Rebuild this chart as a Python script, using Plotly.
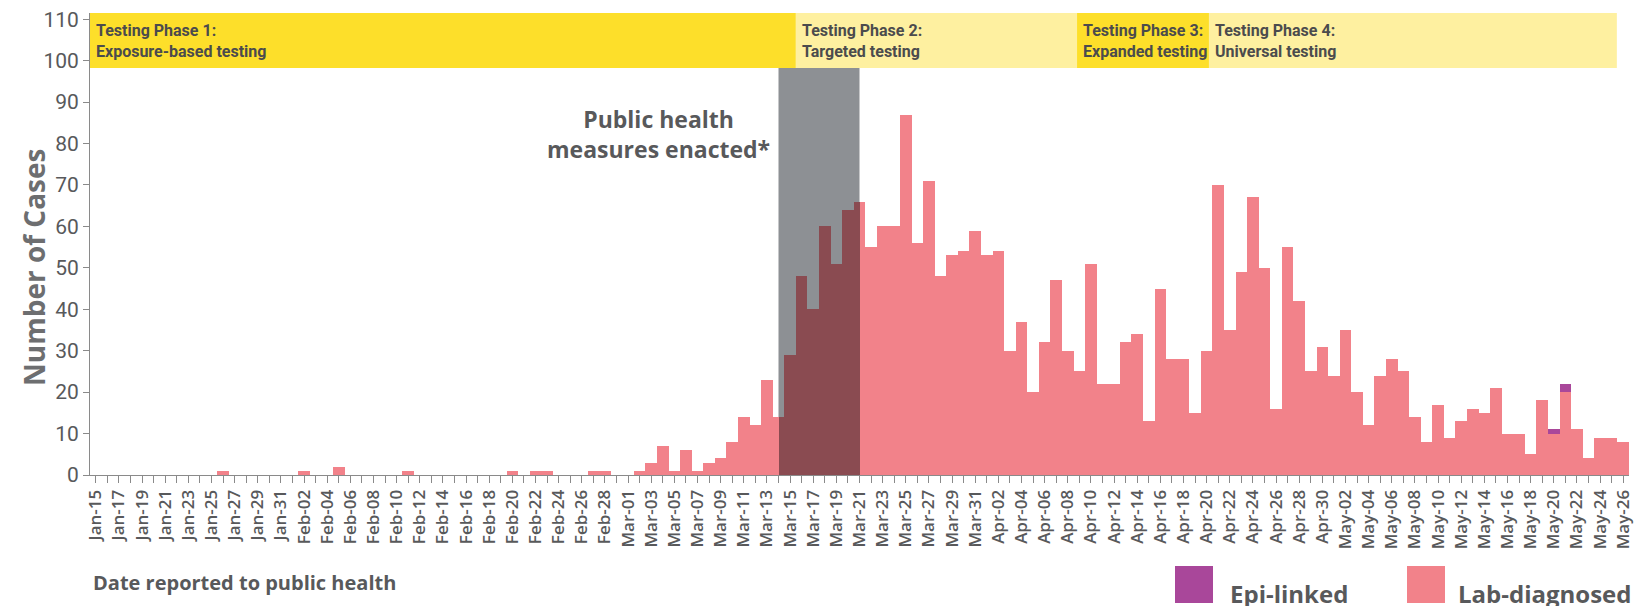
import pandas as pd
import plotly.graph_objects as go

# ---------------- data ----------------
dates = pd.date_range("2020-01-15", "2020-05-26", freq="D")
date_labels = [d.strftime("%b-%d") for d in dates]

lab_jan = [0, 0, 0, 0, 0, 0, 0, 0, 0, 0, 0, 1, 0, 0, 0, 0, 0]  # Jan 15-31
lab_feb = [0, 1, 0, 0, 2, 0, 0, 0, 0, 0, 1, 0, 0, 0, 0, 0, 0, 0, 0, 1,
           0, 1, 1, 0, 0, 0, 1, 1, 0]  # Feb 1-29
lab_mar = [0, 1, 3, 7, 1, 6, 1, 3, 4, 8, 14, 12, 23, 14, 29, 48, 40, 60, 51, 64,
           66, 55, 60, 60, 87, 56, 71, 48, 53, 54, 59]  # Mar 1-31
lab_apr = [53, 54, 30, 37, 20, 32, 47, 30, 25, 51, 22, 22, 32, 34, 13, 45, 28, 28, 15, 30,
           70, 35, 49, 67, 50, 16, 55, 42, 25, 31]  # Apr 1-30
lab_may = [24, 35, 20, 12, 24, 28, 25, 14, 8, 17, 9, 13, 16, 15, 21, 10, 10, 5, 18, 10,
           20, 11, 4, 9, 9, 8]  # May 1-26
lab_diagnosed = lab_jan + lab_feb + lab_mar + lab_apr + lab_may

epi_dates = ["May-20", "May-21"]
epi_values = [1, 2]

y_ticks = list(range(0, 111, 10))

# phase bands (x in day-index units, bars centred on integers)
phase_names = ["Testing Phase 1:<br>Exposure-based testing",
               "Testing Phase 2:<br>Targeted testing",
               "Testing Phase 3:<br>Expanded testing",
               "Testing Phase 4:<br>Universal testing"]
phase_starts = [-0.5, 60.5, 84.8, 96.2]
phase_ends = [60.5, 84.8, 96.2, 131.45]
phase_colors = ["#FDDF2A", "#FEF0A0", "#FDDF2A", "#FEF0A0"]
band_bottom, band_top = 98.2, 111.5

shade_start, shade_end = 59, 66  # centre of Mar-14 to centre of Mar-21

# ---------------- styling ----------------
PINK = "#F2828A"
DARK = "#8A4B51"
PURPLE = "#A9479A"
GRAY_SHADE = "#8D9094"
TXT = "#58595B"
TXT_DARK = "#4B4B4D"
NARROW = "Roboto, Liberation Sans, sans-serif"
OPEN = "Open Sans, sans-serif"

W, H = 1641, 606
ML, MR, MT, MB = 90, 12, 13, 131
PW, PH = W - ML - MR, H - MT - MB


def px(xp):
    return (xp - ML) / PW


def py(yp):
    return (H - MB - yp) / PH


n = len(dates)
xs = list(range(n))
epi_x = [date_labels.index(d) for d in epi_dates]
epi_base = [lab_diagnosed[i] for i in epi_x]

# portions of bars lying under the "public health measures" shade
ov_x, ov_w, ov_y = [], [], []
for i in xs:
    lo, hi = max(i - 0.5, shade_start), min(i + 0.5, shade_end)
    if hi > lo and lab_diagnosed[i] > 0:
        ov_x.append((lo + hi) / 2)
        ov_w.append(hi - lo)
        ov_y.append(lab_diagnosed[i])

fig = go.Figure()
fig.add_trace(go.Bar(x=xs, y=lab_diagnosed, width=1, marker=dict(color=PINK, line=dict(width=0)),
                     name="Lab-diagnosed", showlegend=False))
fig.add_trace(go.Bar(x=ov_x, y=ov_y, width=ov_w, marker=dict(color=DARK, line=dict(width=0)),
                     showlegend=False, hoverinfo="skip"))
fig.add_trace(go.Bar(x=epi_x, y=epi_values, base=epi_base, width=1,
                     marker=dict(color=PURPLE, line=dict(width=0)),
                     name="Epi-linked", showlegend=False))

shapes = []
for s, e, c in zip(phase_starts, phase_ends, phase_colors):
    shapes.append(dict(type="rect", xref="x", yref="y", x0=s, x1=e, y0=band_bottom, y1=band_top,
                       fillcolor=c, line=dict(width=0), layer="below"))
shapes.append(dict(type="rect", xref="x", yref="y", x0=shade_start, x1=shade_end, y0=0, y1=band_bottom,
                   fillcolor=GRAY_SHADE, line=dict(width=0), layer="below"))

# legend swatches
shapes.append(dict(type="rect", xref="paper", yref="paper", x0=px(1175), x1=px(1213), y0=py(603), y1=py(566),
                   fillcolor=PURPLE, line=dict(width=0)))
shapes.append(dict(type="rect", xref="paper", yref="paper", x0=px(1407), x1=px(1445), y0=py(603), y1=py(566),
                   fillcolor=PINK, line=dict(width=0)))

annotations = []
for s, name in zip(phase_starts, phase_names):
    annotations.append(dict(x=max(s, -0.5), y=band_top, xref="x", yref="y", text=name, showarrow=False,
                            xanchor="left", yanchor="top", align="left", xshift=4, yshift=-6,
                            font=dict(family=NARROW, size=16, color=TXT_DARK, weight="bold")))
annotations.append(dict(x=shade_start, y=py(134), xref="x", yref="paper",
                        text="Public health<br>measures enacted*", showarrow=False,
                        xanchor="right", yanchor="middle", align="center", xshift=-7,
                        font=dict(family=OPEN, size=23, color=TXT, weight="bold")))
annotations.append(dict(x=px(34), y=py(267), xref="paper", yref="paper",
                        text="Number of Cases", showarrow=False, textangle=-90,
                        xanchor="center", yanchor="middle",
                        font=dict(family=OPEN, size=28, color="#6D6E70", weight="bold")))
annotations.append(dict(x=px(91), y=py(582), xref="paper", yref="paper",
                        text="Date reported to public health", showarrow=False,
                        xanchor="left", yanchor="middle",
                        font=dict(family=OPEN, size=20, color=TXT, weight="bold")))
annotations.append(dict(x=px(1228), y=py(593), xref="paper", yref="paper", text="Epi-linked",
                        showarrow=False, xanchor="left", yanchor="middle",
                        font=dict(family=OPEN, size=24, color=TXT, weight="bold")))
annotations.append(dict(x=px(1456), y=py(593), xref="paper", yref="paper", text="Lab-diagnosed",
                        showarrow=False, xanchor="left", yanchor="middle",
                        font=dict(family=OPEN, size=24, color=TXT, weight="bold")))

fig.update_layout(
    width=W, height=H,
    margin=dict(l=ML, r=MR, t=MT, b=MB, pad=0),
    paper_bgcolor="white", plot_bgcolor="white",
    barmode="overlay", bargap=0,
    shapes=shapes, annotations=annotations,
    showlegend=False,
)
fig.update_xaxes(
    range=[-0.5, n - 0.5], automargin=False,
    tickmode="array", tickvals=xs[::2], ticktext=date_labels[::2],
    tickangle=-90, ticks="outside", ticklen=7, tickwidth=1, tickcolor="#8a8a8a",
    minor=dict(ticks="outside", dtick=1, tick0=0, ticklen=7, tickwidth=1, tickcolor="#8a8a8a", showgrid=False),
    showline=True, linecolor="#8a8a8a", linewidth=1,
    showgrid=False, zeroline=False,
    tickfont=dict(family=OPEN, size=17, color=TXT, weight=600),
)
fig.update_yaxes(
    range=[0, band_top], automargin=False,
    tickmode="array", tickvals=y_ticks,
    ticks="outside", ticklen=6, tickwidth=1, tickcolor="#8a8a8a",
    showline=True, linecolor="#8a8a8a", linewidth=1,
    showgrid=False, zeroline=False,
    tickfont=dict(family=NARROW, size=21, color=TXT),
)

fig.write_html("out.html", config={"displayModeBar": False},
               post_script="document.body.style.margin='0';document.body.style.overflow='hidden';")
